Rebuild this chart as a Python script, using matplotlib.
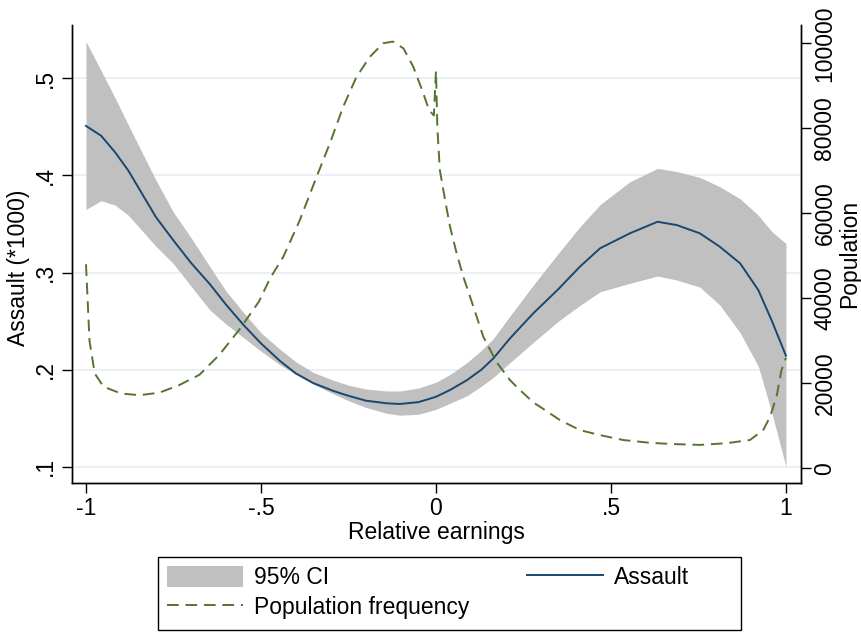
import matplotlib
matplotlib.use('Agg')
import matplotlib.pyplot as plt
from matplotlib.patches import Patch, Rectangle
from matplotlib.lines import Line2D

# local polynomial fit of assault rate, with 95% CI
fit_x = [-1, -0.957, -0.917, -0.879, -0.8, -0.75, -0.7, -0.646, -0.6, -0.55,
         -0.5, -0.446, -0.4, -0.35, -0.293, -0.25, -0.2, -0.141, -0.103, -0.05,
         0.0, 0.04, 0.088, 0.13, 0.164, 0.211, 0.278, 0.35, 0.411, 0.469,
         0.554, 0.633, 0.688, 0.754, 0.811, 0.869, 0.921, 0.96, 1.0]
assault = [.451, .441, .424, .405, .357, .333, .310, .288, .267, .246,
           .227, .209, .196, .186, .178, .173, .168, .1653, .1646, .1665,
           .172, .179, .189, .200, .2116, .232, .258, .283, .306, .325,
           .3404, .3523, .3489, .3404, .3266, .3095, .282, .250, .2143]
ci_high = [.538, .508, .480, .452, .395, .362, .336, .306, .281, .259,
           .238, .221, .208, .197, .189, .184, .180, .178, .178, .181,
           .187, .195, .207, .220, .232, .255, .287, .320, .347, .370,
           .3935, .4073, .404, .398, .3884, .376, .359, .342, .330]
ci_low = [.365, .374, .3695, .359, .327, .309, .286, .2614, .247, .233,
          .219, .205, .195, .185, .175, .168, .161, .155, .153, .154,
          .159, .1653, .173, .183, .192, .207, .228, .250, .266, .2802,
          .2889, .2964, .2923, .285, .2665, .238, .2035, .155, .100]

# population frequency by relative earnings
pop_x = [-1, -0.99, -0.975, -0.95, -0.9, -0.847, -0.79, -0.733, -0.676, -0.62,
         -0.563, -0.506, -0.474, -0.436, -0.389, -0.341, -0.303, -0.265, -0.227,
         -0.189, -0.151, -0.123, -0.093, -0.065, -0.036, -0.02, -0.006, 0.0,
         0.004, 0.011, 0.026, 0.04, 0.059, 0.078, 0.107, 0.135, 0.173, 0.211,
         0.235, 0.278, 0.297, 0.354, 0.411, 0.469, 0.535, 0.611, 0.678, 0.754,
         0.83, 0.897, 0.935, 0.954, 0.973, 0.987, 1.0]
population = [48000, 30000, 22300, 19200, 17600, 17200, 17800, 19600, 22000, 26600,
              32500, 39200, 44700, 49800, 58400, 68600, 76500, 85100, 92100,
              96800, 100000, 100400, 98800, 94500, 88200, 84300, 83000, 93500,
              80000, 70200, 63100, 56900, 50600, 45100, 38000, 31000, 25000, 20800,
              18800, 15500, 14500, 11350, 9000, 7800, 6650, 6000, 5700, 5500,
              5900, 6650, 9000, 12000, 16800, 23000, 26000]

x_ticks = [-1, -0.5, 0, 0.5, 1]
x_labels = ['-1', '-.5', '0', '.5', '1']
y_ticks = [.1, .2, .3, .4, .5]
y_labels = ['.1', '.2', '.3', '.4', '.5']
pop_ticks = [0, 20000, 40000, 60000, 80000, 100000]

navy = '#1a476f'
green = '#55752f'
band = '#c0c0c0'
grid = '#e6eef1'
dash = (0, (6, 3.5))

plt.rcParams['font.family'] = ['Liberation Sans', 'DejaVu Sans']
plt.rcParams['font.size'] = 16.5

fig = plt.figure(figsize=(8.61, 6.32), dpi=100)
ax = fig.add_axes([72 / 861, 149 / 632, 729 / 861, 458 / 632])
ax2 = ax.twinx()

ax.fill_between(fit_x, ci_low, ci_high, color=band, lw=0, zorder=2)
ax.plot(fit_x, assault, color=navy, lw=1.4, zorder=3)
ax2.plot(pop_x, population, color=green, lw=1.4, ls=dash)

ax.set_xlim(-1.04, 1.043)
ax.set_ylim(0.0832, 0.555)
ax2.set_ylim(-3460, 104300)

ax.set_xticks(x_ticks, x_labels)
ax.set_yticks(y_ticks, y_labels, rotation=90, va='center')
ax2.set_yticks(pop_ticks, [str(t) for t in pop_ticks], rotation=90, va='center')

for a in (ax, ax2):
    a.spines['top'].set_visible(False)
    for s in a.spines.values():
        s.set_linewidth(1.0)
    a.tick_params(length=7, width=1.0, pad=3)
ax.tick_params(axis='y', pad=4)
ax2.tick_params(axis='y', pad=2)

ax.grid(axis='y', color=grid, lw=1.2, zorder=0)
ax.set_axisbelow(True)

ax.set_xlabel('Relative earnings', labelpad=1)
ax.set_ylabel('Assault (*1000)')
ax.yaxis.set_label_coords(-0.057, 0.47)
ax2.set_ylabel('Population')
ax2.yaxis.set_label_coords(1.051, 0.5)

# legend: Stata-style box below the plot
box = Rectangle((158 / 861, 1 - 630 / 632), 583 / 861, 73 / 632,
                transform=fig.transFigure, fill=False, ec='black', lw=1.0)
fig.patches.append(box)
handles = [Patch(facecolor=band, edgecolor='none', label='95% CI'),
           Line2D([], [], color=green, lw=1.4, ls=dash, label='Population frequency'),
           Line2D([], [], color=navy, lw=1.4, label='Assault')]
fig.legend(handles=handles, ncol=2, loc='upper left',
           bbox_to_anchor=(158 / 861, 1 - 557 / 632), borderaxespad=0,
           frameon=False, handlelength=3.3, handleheight=1.0, handletextpad=0.5,
           columnspacing=2.5, labelspacing=0.3, borderpad=0.4)

fig.savefig('out.png', dpi=100)
